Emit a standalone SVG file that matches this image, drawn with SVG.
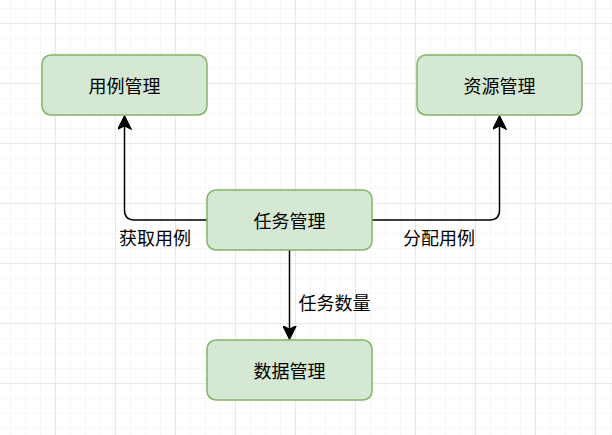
<svg xmlns="http://www.w3.org/2000/svg" width="612" height="435" viewBox="0 0 612 435">
  <defs>
    <pattern id="minor" x="10" y="8" width="15" height="15" patternUnits="userSpaceOnUse">
      <path d="M0 0V15M0 0H15" fill="none" stroke="#f0f0f0" stroke-width="1"/>
    </pattern>
    <pattern id="major" x="-5" y="23" width="60" height="60" patternUnits="userSpaceOnUse">
      <path d="M0 0V60M0 0H60" fill="none" stroke="#dadada" stroke-width="1"/>
    </pattern>
    <marker id="arrow" viewBox="0 0 14 14" refX="14" refY="7" markerWidth="14" markerHeight="14" markerUnits="userSpaceOnUse" orient="auto">
      <path d="M0 0L14 7L0 14L3.5 7Z" fill="#000" stroke="#000" stroke-width="1"/>
    </marker>
  </defs>
  <style>
    .node rect { fill: #d5e8d4; stroke: #82b366; stroke-width: 1.5; }
    .node text { font-family: "Noto Sans CJK SC", "Noto Sans", sans-serif; font-size: 18px; fill: #000; text-anchor: middle; dominant-baseline: central; }
    .edge { fill: none; stroke: #000; stroke-width: 1.5; marker-end: url(#arrow); }
    .label { font-family: "Noto Sans CJK SC", "Noto Sans", sans-serif; font-size: 18px; fill: #000; text-anchor: middle; dominant-baseline: central; }
  </style>
  <rect width="612" height="435" fill="#ffffff"/>
  <rect width="612" height="435" fill="url(#minor)"/>
  <rect width="612" height="435" fill="url(#major)"/>

  <g id="connectors">
    <path class="edge" d="M207 220H134.5Q124.5 220 124.5 210V115.5"/>
    <path class="edge" d="M372 220H489.5Q499.5 220 499.5 210V115.5"/>
    <path class="edge" d="M289.5 250V339.5"/>
    <text class="label" x="155" y="237">获取用例</text>
    <text class="label" x="439" y="237">分配用例</text>
    <text class="label" x="334.5" y="302">任务数量</text>
  </g>

  <g id="node-usecase" class="node">
    <rect x="42" y="55" width="165" height="60" rx="9" ry="9"/>
    <text x="124.5" y="85">用例管理</text>
  </g>
  <g id="node-resource" class="node">
    <rect x="417" y="55" width="165" height="60" rx="9" ry="9"/>
    <text x="499.5" y="85">资源管理</text>
  </g>
  <g id="node-task" class="node">
    <rect x="207" y="190" width="165" height="60" rx="9" ry="9"/>
    <text x="289.5" y="220">任务管理</text>
  </g>
  <g id="node-data" class="node">
    <rect x="207" y="340" width="165" height="60" rx="9" ry="9"/>
    <text x="289.5" y="370">数据管理</text>
  </g>
</svg>
